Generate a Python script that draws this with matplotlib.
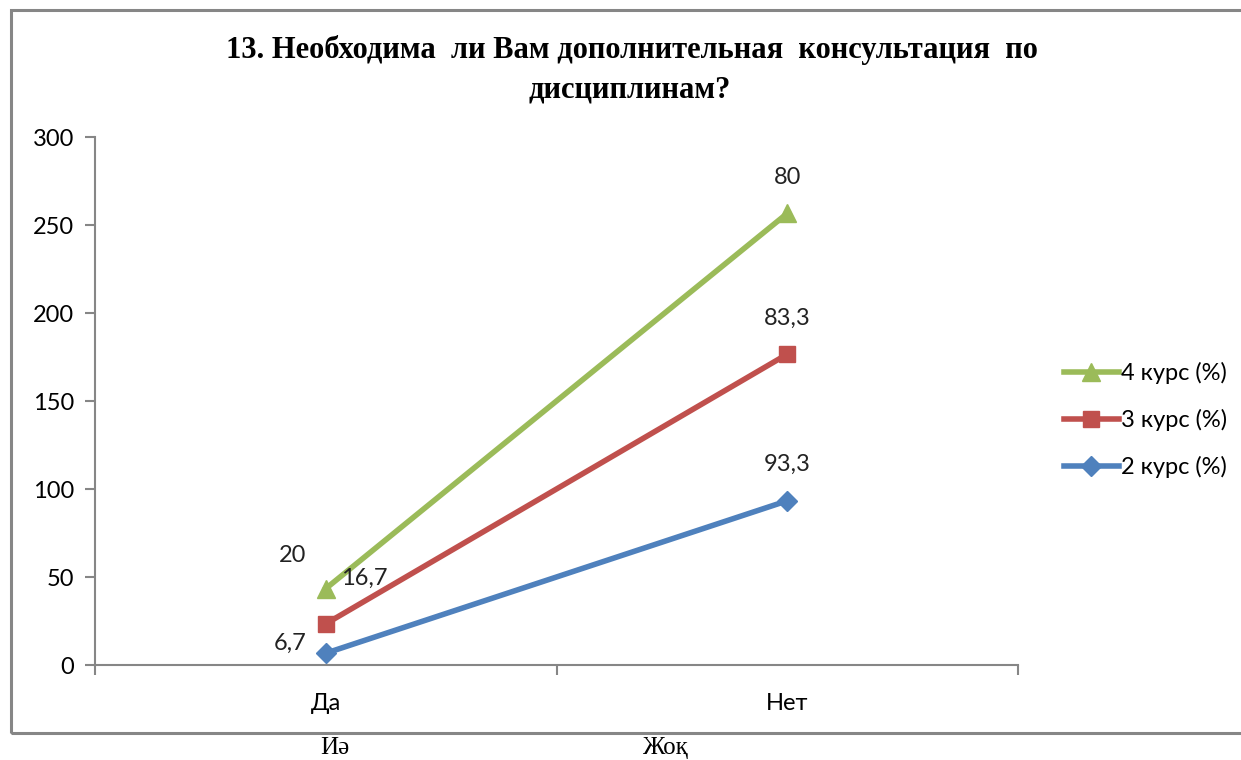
import matplotlib.pyplot as plt
from matplotlib.patches import Rectangle

categories = ['Да', 'Нет']
kaz_labels = ['Иә', 'Жоқ']
kurs2 = [6.7, 93.3]
kurs3 = [16.7, 83.3]
kurs4 = [20, 80]
labels2 = ['6,7', '93,3']
labels3 = ['16,7', '83,3']
labels4 = ['20', '80']

# stacked line chart (Excel style)
s2 = [a for a in kurs2]
s3 = [a + b for a, b in zip(kurs2, kurs3)]
s4 = [a + b + c for a, b, c in zip(kurs2, kurs3, kurs4)]

plt.rcParams['font.family'] = ['Lato', 'DejaVu Sans']
fig = plt.figure(figsize=(12.41, 7.6), dpi=100)
ax = fig.add_axes([95/1241, 1-665/760, 923/1241, 528/760])

x = list(range(len(categories)))
green, red, blue = '#9BBB59', '#C0504D', '#4F81BD'
l4, = ax.plot(x, s4, c=green, lw=4, marker='^', ms=13, label='4 курс (%)')
l3, = ax.plot(x, s3, c=red, lw=4, marker='s', ms=12, label='3 курс (%)')
l2, = ax.plot(x, s2, c=blue, lw=4, marker='D', ms=10, label='2 курс (%)')

fs = 17
offs = {0: [(-24, 24), (28, 33), (-26, 7)], 1: [(0, 26), (0, 26), (0, 26)]}
for i in x:
    for k, (ys, lab) in enumerate([(s4, labels4), (s3, labels3), (s2, labels2)]):
        ax.annotate(lab[i], (i, ys[i]), xytext=offs[i][k], textcoords='offset points',
                    ha='center', va='center', fontsize=fs, color='#222222')

ax.set_xlim(-0.5, 1.5)
ax.set_ylim(0, 300)
ax.set_yticks(range(0, 301, 50))
ax.set_xticks([-0.5, 0.5, 1.5])
ax.set_xticklabels([])
ax.set_xticks(x, minor=True)
ax.set_xticklabels(categories, minor=True)
ax.tick_params(axis='x', which='minor', length=0, pad=20, labelsize=fs)
ax.tick_params(axis='x', which='major', length=7, width=1.5, color='#868686', direction='out')
ax.tick_params(axis='y', length=7, width=1.5, color='#868686', labelsize=fs, pad=8)
for sp in ['top', 'right']:
    ax.spines[sp].set_visible(False)
for sp in ['left', 'bottom']:
    ax.spines[sp].set_color('#868686')
    ax.spines[sp].set_linewidth(1.5)

fig.legend(handles=[l4, l3, l2], loc='center left', bbox_to_anchor=(1043/1241, 1-420/760),
           frameon=False, fontsize=fs, handlelength=2.3, handletextpad=0.1, labelspacing=1.05)

fig.text(632/1241, 1-50/760, '13. Необходима  ли Вам дополнительная  консультация  по',
         ha='center', va='center', fontsize=22, fontweight='bold',
         family=['Liberation Serif', 'DejaVu Serif'])
fig.text(630/1241, 1-90/760, 'дисциплинам?', ha='center', va='center', fontsize=22,
         fontweight='bold', family=['Liberation Serif', 'DejaVu Serif'])

# chart frame
fig.patches.append(Rectangle((11/1241, 1-733/760), 1.2, 723/760, transform=fig.transFigure,
                             fill=False, ec='#868686', lw=2.2))

for xp, t in zip([335, 665], kaz_labels):
    fig.text(xp/1241, 1-748/760, t, ha='center', va='center', fontsize=18,
             family=['Liberation Serif', 'DejaVu Serif'])

plt.savefig('out.png', dpi=100)
